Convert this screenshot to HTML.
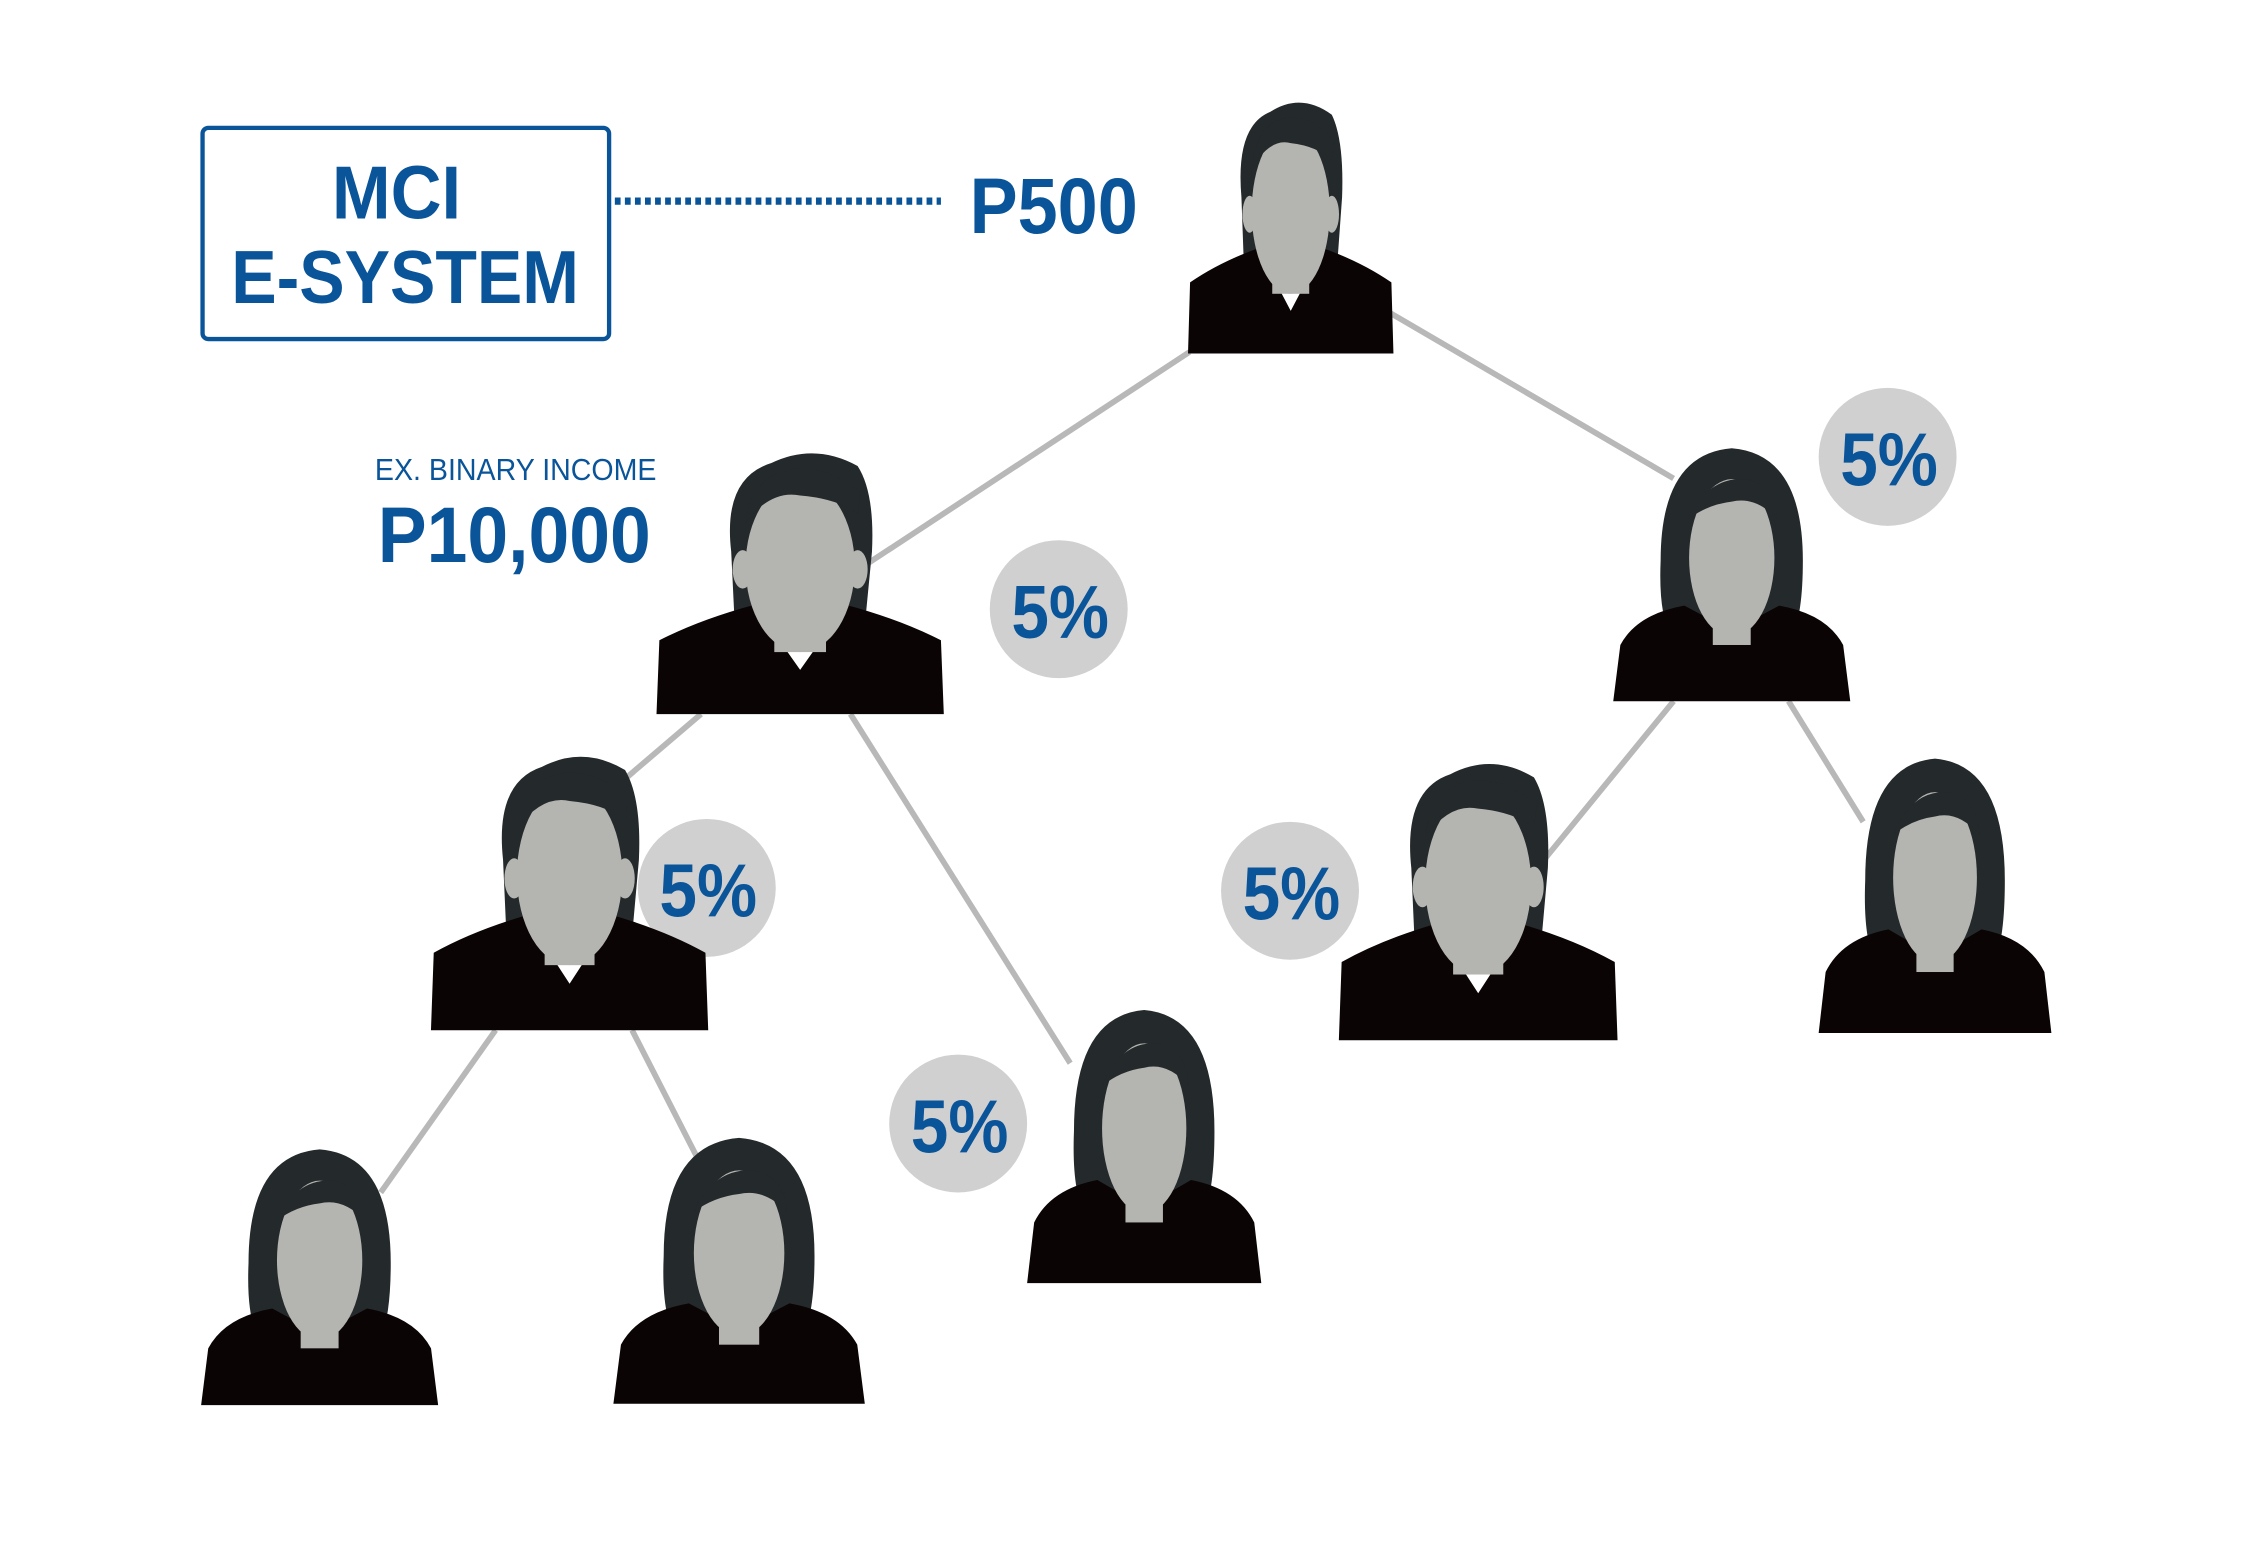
<!DOCTYPE html>
<html><head><meta charset="utf-8"><style>
html,body{margin:0;padding:0;background:#fff;}
svg{display:block;}
</style></head><body>
<svg width="2241" height="1556" viewBox="0 0 1560 1083" preserveAspectRatio="none" xmlns="http://www.w3.org/2000/svg">
<defs>
<g id="man">
  <path d="M52,70 Q46,20 80,10 Q110,-4 140,12 Q152,30 150,70 L146,110 L54,110 Z" fill="#24292b"/>
  <path d="M0,180 L2,130 Q30,116 68,106 L100,150 L132,106 Q170,116 198,130 L200,180 Z" fill="#0a0404"/>
  <rect x="82" y="100" width="36" height="38" fill="#b4b4b0"/>
  <ellipse cx="100" cy="80" rx="38" ry="58" fill="#b4b4b0"/>
  <ellipse cx="60" cy="82" rx="7" ry="13" fill="#b4b4b0"/>
  <ellipse cx="140" cy="82" rx="7" ry="13" fill="#b4b4b0"/>
  <path d="M62,50 Q80,28 100,32 Q125,34 140,44 L142,30 Q120,12 96,14 Q66,18 62,50Z" fill="#24292b"/>
</g>
<g id="woman">
  <path d="M100,0 Q160,4 160,80 Q160,120 150,135 L50,135 Q38,120 40,80 Q40,4 100,0Z" fill="#24292b"/>
  <path d="M0,180 L6,140 Q20,118 60,112 L100,130 L140,112 Q180,118 194,140 L200,180 Z" fill="#0a0404"/>
  <rect x="84" y="100" width="32" height="40" fill="#b4b4b0"/>
  <ellipse cx="100" cy="78" rx="36" ry="56" fill="#b4b4b0"/>
  <path d="M64,50 Q80,20 112,22 Q136,26 138,50 Q120,34 100,38 Q80,40 64,50Z" fill="#24292b"/>
</g>
</defs>
<g stroke="#b8b8b8" stroke-width="4" fill="none">
  <line x1="828" y1="245" x2="580" y2="408"/>
  <line x1="968" y1="218" x2="1165" y2="333"/>
  <line x1="488" y1="497" x2="420" y2="555"/>
  <line x1="592" y1="497" x2="745" y2="740"/>
  <line x1="345" y1="717" x2="265" y2="830"/>
  <line x1="440" y1="717" x2="485" y2="805"/>
  <line x1="1165" y1="488" x2="1045" y2="635"/>
  <line x1="1245" y1="488" x2="1297" y2="572"/>
</g>
<rect x="141" y="89" width="283" height="147" rx="4" fill="#fff" stroke="#0a5499" stroke-width="3"/>
<g font-family="'Liberation Sans Narrow','Liberation Sans',sans-serif" font-weight="bold" fill="#0a5499">
  <text x="276" y="152" font-size="52" text-anchor="middle" textLength="90" lengthAdjust="spacingAndGlyphs">MCI</text>
  <text x="282" y="211" font-size="52" text-anchor="middle" textLength="242" lengthAdjust="spacingAndGlyphs">E-SYSTEM</text>
  <text x="675" y="162" font-size="55" textLength="117" lengthAdjust="spacingAndGlyphs">P500</text>
  <text x="261" y="334" font-size="21" font-weight="normal" textLength="196" lengthAdjust="spacingAndGlyphs">EX. BINARY INCOME</text>
  <text x="263" y="391" font-size="55" textLength="190" lengthAdjust="spacingAndGlyphs">P10,000</text>
</g>
<line x1="428" y1="140" x2="655" y2="140" stroke="#0a5499" stroke-width="5" stroke-dasharray="4 3"/>
<g fill="#d0d0d0">
  <circle cx="737" cy="424" r="48"/>
  <circle cx="1314" cy="318" r="48"/>
  <circle cx="492" cy="618" r="48"/>
  <circle cx="898" cy="620" r="48"/>
  <circle cx="667" cy="782" r="48"/>
</g>
<g font-family="'Liberation Sans Narrow','Liberation Sans',sans-serif" font-weight="bold" fill="#0a5499" font-size="52" text-anchor="middle">
  <text x="738" y="444" textLength="68" lengthAdjust="spacingAndGlyphs">5%</text>
  <text x="1315" y="338" textLength="68" lengthAdjust="spacingAndGlyphs">5%</text>
  <text x="493" y="638" textLength="68" lengthAdjust="spacingAndGlyphs">5%</text>
  <text x="899" y="640" textLength="68" lengthAdjust="spacingAndGlyphs">5%</text>
  <text x="668" y="802" textLength="68" lengthAdjust="spacingAndGlyphs">5%</text>
</g>
<use href="#man" transform="translate(827,68) scale(0.715,0.989)"/>
<use href="#man" transform="translate(457,312) scale(1.0,1.028)"/>
<use href="#woman" transform="translate(1123,312) scale(0.825,0.978)"/>
<use href="#man" transform="translate(300,523) scale(0.965,1.078)"/>
<use href="#man" transform="translate(932,528) scale(0.97,1.089)"/>
<use href="#woman" transform="translate(1266,528) scale(0.81,1.061)"/>
<use href="#woman" transform="translate(715,703) scale(0.815,1.056)"/>
<use href="#woman" transform="translate(140,800) scale(0.825,0.989)"/>
<use href="#woman" transform="translate(427,792) scale(0.875,1.028)"/>
</svg>
</body></html>
